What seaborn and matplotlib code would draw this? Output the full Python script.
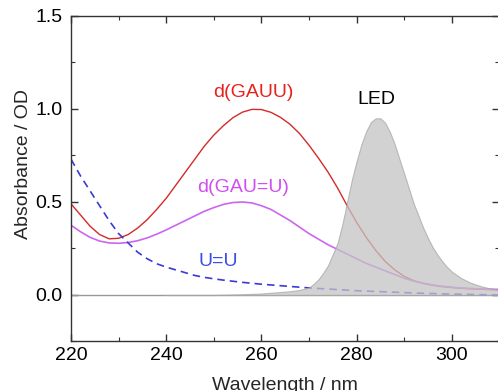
import numpy as np
import pandas as pd
import matplotlib
matplotlib.use("Agg")
import matplotlib.pyplot as plt
import seaborn as sns
from matplotlib.ticker import MultipleLocator

# absorbance spectra, sampled every 2 nm
wl = list(range(220, 312, 2))
gauu = [0.49, 0.43, 0.37, 0.325, 0.302, 0.305, 0.325, 0.36, 0.405, 0.46,
        0.52, 0.59, 0.66, 0.73, 0.80, 0.86, 0.91, 0.953, 0.983, 0.998,
        0.997, 0.982, 0.955, 0.918, 0.868, 0.805, 0.735, 0.66, 0.575, 0.48,
        0.39, 0.31, 0.24, 0.18, 0.135, 0.10, 0.077, 0.062, 0.052, 0.045,
        0.04, 0.036, 0.033, 0.031, 0.029, 0.028]
gau_u = [0.375, 0.34, 0.31, 0.29, 0.28, 0.278, 0.282, 0.292, 0.307, 0.327,
         0.35, 0.375, 0.40, 0.425, 0.45, 0.47, 0.487, 0.497, 0.50, 0.495,
         0.48, 0.46, 0.43, 0.40, 0.365, 0.33, 0.30, 0.27, 0.245, 0.22,
         0.195, 0.17, 0.15, 0.13, 0.11, 0.09, 0.075, 0.063, 0.054, 0.047,
         0.042, 0.038, 0.035, 0.033, 0.031, 0.03]
u_u = [0.73, 0.64, 0.56, 0.48, 0.40, 0.33, 0.28, 0.23, 0.195, 0.168,
       0.15, 0.135, 0.12, 0.105, 0.095, 0.087, 0.08, 0.074, 0.068, 0.063,
       0.058, 0.054, 0.05, 0.046, 0.042, 0.038, 0.035, 0.032, 0.029, 0.026,
       0.023, 0.021, 0.019, 0.017, 0.015, 0.013, 0.011, 0.009, 0.008, 0.006,
       0.005, 0.004, 0.003, 0.002, 0.001, 0.0]

# LED emission profile (scaled)
led_wl = [240, 250, 255, 260, 263, 266, 268, 270, 271, 272, 273, 274, 275,
          276, 277, 278, 279, 280, 281, 282, 283, 284, 285, 286, 287, 288,
          289, 290, 291, 292, 293, 294, 295, 296, 297, 298, 299, 300, 302,
          304, 306, 308, 310]
led = [0.0, 0.0, 0.003, 0.008, 0.014, 0.02, 0.027, 0.04, 0.06, 0.085,
       0.12, 0.16, 0.22, 0.28, 0.38, 0.50, 0.62, 0.72, 0.81, 0.88,
       0.93, 0.95, 0.95, 0.925, 0.875, 0.81, 0.73, 0.65, 0.57, 0.49,
       0.425, 0.36, 0.305, 0.255, 0.215, 0.18, 0.15, 0.125, 0.09,
       0.065, 0.048, 0.035, 0.027]

df = pd.DataFrame({"wl": wl, "GAUU": gauu, "GAU=U": gau_u, "U=U": u_u})

sns.set_theme(style="ticks")
plt.rcParams["font.family"] = ["Liberation Sans", "DejaVu Sans"]

fig = plt.figure(figsize=(4.98, 3.91), dpi=100)
ax = fig.add_axes([0.1426, 0.1266, 0.8604, 0.8325])

ax.axhline(0, color="#9a9a9a", lw=1.0, zorder=1)
sns.lineplot(data=df, x="wl", y="GAUU", color="#d42a2a", lw=1.0, ax=ax, zorder=2)
sns.lineplot(data=df, x="wl", y="GAU=U", color="#cc66ee", lw=1.2, ax=ax, zorder=2)
sns.lineplot(data=df, x="wl", y="U=U", color="#3a3ad8", lw=1.2, ax=ax, zorder=2,
             linestyle=(0, (4.5, 3)))
ax.fill_between(led_wl, led, 0, color="#c4c4c4", alpha=0.75,
                edgecolor="#a8a8a8", lw=0.8, zorder=3)

ax.text(258.2, 1.09, "d(GAUU)", color="#e8211d", fontsize=14, ha="center", va="center")
ax.text(256.1, 0.58, "d(GAU=U)", color="#d04ff0", fontsize=14, ha="center", va="center")
ax.text(250.9, 0.18, "U=U", color="#3a4ee8", fontsize=14, ha="center", va="center")
ax.text(284.1, 1.05, "LED", color="black", fontsize=14, ha="center", va="center")

ax.set_xlim(220, 310)
ax.set_ylim(-0.25, 1.5)
ax.xaxis.set_major_locator(MultipleLocator(20))
ax.xaxis.set_minor_locator(MultipleLocator(10))
ax.yaxis.set_major_locator(MultipleLocator(0.5))
ax.yaxis.set_minor_locator(MultipleLocator(0.25))
ax.tick_params(which="both", direction="in", top=True, right=True,
               colors="#333333", labelcolor="black")
ax.tick_params(which="major", length=5, width=1, labelsize=14)
ax.tick_params(which="minor", length=3, width=0.8)
ax.tick_params(axis="y", pad=6)
ax.tick_params(axis="x", pad=4)
for s in ax.spines.values():
    s.set_color("#333333")
    s.set_linewidth(1)

ax.set_xlabel("Wavelength / nm", fontsize=14)
ax.set_ylabel("Absorbance / OD", fontsize=14)
ax.xaxis.set_label_coords(0.5, -0.108)
ax.yaxis.set_label_coords(-0.091, 0.545)

fig.savefig("out.png", dpi=100)
